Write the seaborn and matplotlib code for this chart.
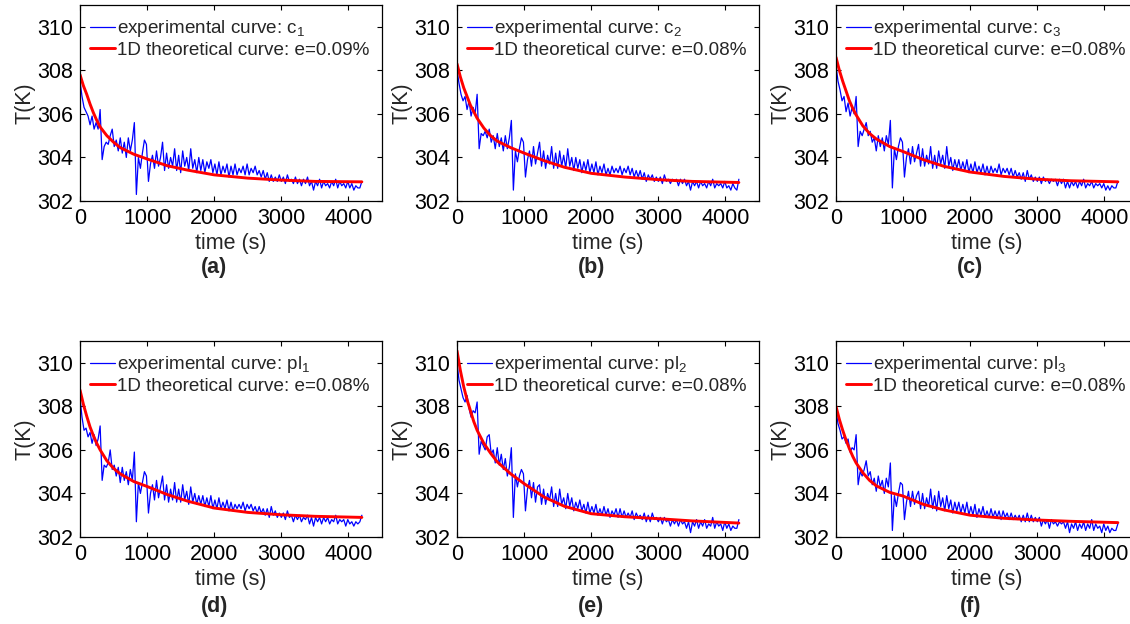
import numpy as np
import pandas as pd
import matplotlib
matplotlib.use("Agg")
import matplotlib.pyplot as plt
import seaborn as sns

# ---------------- data ----------------
time_exp = list(range(0, 4201, 30))   # sampling grid of experimental curves (s)

exp_c1 = [
    307.5, 306.8, 306.3, 306.1, 305.9, 305.5, 305.9, 305.3, 305.6, 305.3,
    306.2, 303.9, 304.5, 304.7, 304.6, 305.0, 305.3, 304.5, 304.8, 304.3,
    304.9, 304.2, 304.7, 304.0, 304.9, 304.3, 304.8, 305.6, 302.3, 304.0,
    303.5, 304.2, 304.8, 304.6, 302.9, 303.7, 304.1, 303.5, 304.3, 303.6,
    304.0, 304.7, 303.4, 304.2, 303.5, 304.0, 303.6, 304.4, 303.4, 304.1,
    303.3, 304.3, 303.6, 304.0, 303.4, 304.4, 303.5, 303.9, 303.3, 304.0,
    303.4, 303.9, 303.3, 303.8, 303.5, 303.9, 303.3, 303.7, 303.2, 303.8,
    303.2, 303.6, 303.3, 303.7, 303.1, 303.6, 303.2, 303.7, 303.2, 303.5,
    303.3, 303.6, 303.2, 303.7, 303.2, 303.5, 303.3, 303.6, 303.2, 303.4,
    303.1, 303.4, 303.0, 303.3, 302.9, 303.2, 302.9, 303.1, 302.9, 303.2,
    302.9, 303.1, 302.8, 303.2, 302.9, 303.0, 302.8, 303.1, 302.8, 303.0,
    302.7, 303.0, 302.8, 303.1, 302.7, 302.9, 302.5, 302.9, 302.7, 303.0,
    302.6, 302.9, 302.7, 302.8, 302.6, 302.9, 302.7, 303.0, 302.6, 302.9,
    302.7, 302.8, 302.6, 302.9, 302.6, 302.8, 302.5, 302.7, 302.6, 302.6,
    302.9]

exp_c2 = [
    308.0, 307.4, 306.9, 306.6, 306.8, 306.2, 306.6, 305.9, 306.3, 306.0,
    306.9, 304.4, 305.1, 305.0, 305.2, 304.9, 305.3, 304.7, 305.0, 304.4,
    305.1, 304.5, 304.9, 304.3, 305.0, 304.4, 304.9, 305.7, 302.5, 304.3,
    303.8, 304.4, 304.9, 304.7, 303.1, 303.9, 304.3, 303.6, 304.5, 303.7,
    304.2, 304.7, 303.6, 304.3, 303.5, 304.1, 303.7, 304.5, 303.5, 304.2,
    303.5, 304.3, 303.6, 304.1, 303.5, 304.4, 303.6, 304.0, 303.4, 304.0,
    303.5, 303.9, 303.3, 303.8, 303.4, 303.9, 303.3, 303.7, 303.3, 303.8,
    303.2, 303.6, 303.3, 303.7, 303.2, 303.5, 303.2, 303.6, 303.3, 303.5,
    303.3, 303.6, 303.2, 303.5, 303.3, 303.6, 303.2, 303.5, 303.1, 303.4,
    303.1, 303.4, 303.0, 303.3, 302.9, 303.2, 303.0, 303.2, 302.9, 303.1,
    302.9, 303.1, 302.8, 303.2, 302.9, 303.0, 302.8, 303.0, 302.9, 303.0,
    302.7, 303.0, 302.8, 303.0, 302.7, 302.9, 302.5, 302.9, 302.7, 302.9,
    302.6, 302.9, 302.7, 302.8, 302.6, 302.9, 302.7, 303.0, 302.6, 302.8,
    302.7, 302.8, 302.6, 302.9, 302.6, 302.7, 302.5, 302.8, 302.6, 302.5,
    303.0]

exp_c3 = [
    308.2, 307.5, 307.1, 306.6, 306.8, 306.1, 306.5, 305.9, 306.3, 306.0,
    306.8, 304.5, 305.2, 305.0, 305.3, 305.6, 305.0, 305.2, 304.7, 304.9,
    304.3, 305.0, 304.5, 304.9, 304.3, 305.0, 304.6, 305.7, 302.6, 304.4,
    303.9, 304.5, 304.9, 304.7, 303.1, 304.0, 304.4, 303.7, 304.5, 303.8,
    304.2, 304.6, 303.6, 304.4, 303.6, 304.1, 303.7, 304.5, 303.5, 304.1,
    303.5, 304.3, 303.7, 304.1, 303.5, 304.5, 303.6, 304.0, 303.4, 303.9,
    303.5, 303.9, 303.4, 303.8, 303.4, 303.9, 303.3, 303.7, 303.3, 303.8,
    303.3, 303.6, 303.3, 303.7, 303.2, 303.6, 303.2, 303.6, 303.3, 303.5,
    303.3, 303.7, 303.2, 303.5, 303.3, 303.5, 303.2, 303.5, 303.1, 303.4,
    303.1, 303.3, 303.0, 303.3, 302.9, 303.4, 303.0, 303.2, 302.9, 303.1,
    302.9, 303.1, 302.8, 303.1, 302.9, 303.0, 302.8, 303.0, 302.9, 303.0,
    302.7, 303.0, 302.8, 303.0, 302.6, 302.9, 302.6, 302.9, 302.7, 302.9,
    302.6, 302.9, 302.7, 303.0, 302.6, 302.8, 302.7, 302.9, 302.6, 302.8,
    302.7, 302.8, 302.6, 302.8, 302.5, 302.7, 302.5, 302.7, 302.6, 302.6,
    302.9]

exp_pl1 = [
    308.4, 307.5, 306.9, 307.0, 306.6, 306.8, 306.3, 306.7, 306.2, 306.5,
    307.1, 304.6, 305.3, 305.2, 305.4, 306.0, 305.1, 305.3, 304.8, 305.2,
    304.5, 305.2, 304.6, 305.0, 304.4, 305.1, 304.6, 305.9, 302.7, 304.5,
    304.0, 304.5, 305.0, 304.8, 303.1, 304.0, 304.4, 303.7, 304.6, 303.8,
    304.3, 304.8, 303.7, 304.4, 303.6, 304.2, 303.7, 304.5, 303.6, 304.2,
    303.6, 304.4, 303.7, 304.1, 303.5, 304.3, 303.6, 304.0, 303.5, 303.9,
    303.5, 303.9, 303.4, 303.8, 303.4, 303.9, 303.3, 303.7, 303.3, 303.8,
    303.3, 303.6, 303.3, 303.7, 303.2, 303.6, 303.2, 303.5, 303.3, 303.5,
    303.3, 303.6, 303.2, 303.5, 303.3, 303.5, 303.2, 303.4, 303.1, 303.4,
    303.1, 303.3, 303.0, 303.3, 302.9, 303.4, 303.0, 303.2, 302.9, 303.1,
    302.9, 303.1, 302.8, 303.2, 302.9, 303.0, 302.7, 303.0, 302.8, 303.0,
    302.7, 302.9, 302.8, 303.0, 302.6, 302.9, 302.5, 302.9, 302.7, 302.9,
    302.6, 302.9, 302.7, 302.9, 302.6, 302.8, 302.7, 303.0, 302.6, 302.8,
    302.7, 302.8, 302.5, 302.8, 302.6, 302.7, 302.5, 302.7, 302.6, 302.7,
    303.0]

exp_pl2 = [
    310.0, 309.2, 308.8, 308.4, 308.2, 308.5, 307.9, 307.5, 307.8, 307.7,
    308.2, 305.8, 306.4, 306.2, 306.0, 306.6, 306.7, 305.8, 306.0, 305.4,
    306.1, 305.3, 305.8, 305.1, 305.6, 304.8, 305.2, 306.1, 302.9, 304.9,
    304.3, 304.8, 305.1, 304.9, 303.2, 304.2, 304.6, 303.8, 304.5, 303.6,
    304.3, 304.4, 303.5, 304.2, 303.5, 304.0, 303.7, 304.3, 303.4, 304.0,
    303.4, 304.2, 303.5, 303.8, 303.3, 304.0, 303.4, 303.8, 303.2, 303.6,
    303.3, 303.7, 303.2, 303.5, 303.1, 303.6, 303.1, 303.4, 303.1, 303.5,
    303.0, 303.3, 303.0, 303.4, 303.0, 303.3, 302.9, 303.2, 303.0, 303.3,
    302.9, 303.3, 302.9, 303.2, 302.9, 303.1, 302.9, 303.2, 302.8, 303.1,
    302.9, 303.0, 302.8, 303.1, 302.7, 303.0, 302.7, 303.1, 302.8, 302.9,
    302.7, 302.9, 302.6, 302.9, 302.7, 302.8, 302.5, 302.8, 302.6, 302.8,
    302.5, 302.8, 302.6, 302.7, 302.4, 302.7, 302.2, 302.7, 302.5, 302.8,
    302.4, 302.7, 302.5, 302.8, 302.4, 302.6, 302.5, 302.9, 302.4, 302.7,
    302.5, 302.6, 302.3, 302.7, 302.4, 302.6, 302.3, 302.5, 302.4, 302.4,
    302.8]

exp_pl3 = [
    307.8, 307.2, 306.9, 306.5, 306.6, 306.3, 306.5, 305.9, 306.1, 306.0,
    306.7, 304.4, 305.0, 304.8, 305.1, 305.5, 304.8, 305.0, 304.4, 304.7,
    304.1, 304.8, 304.3, 304.6, 304.0, 304.7, 304.3, 305.4, 302.3, 303.9,
    303.4, 304.0, 304.5, 304.4, 302.8, 303.6, 304.1, 303.4, 304.1, 303.5,
    303.9, 304.1, 303.3, 304.0, 303.3, 303.8, 303.4, 304.2, 303.3, 303.9,
    303.2, 304.1, 303.4, 303.8, 303.2, 303.9, 303.3, 303.7, 303.1, 303.6,
    303.2, 303.6, 303.1, 303.5, 303.1, 303.6, 303.0, 303.4, 303.0, 303.5,
    302.9, 303.3, 303.0, 303.4, 302.9, 303.2, 302.9, 303.3, 302.9, 303.2,
    302.9, 303.2, 302.8, 303.2, 302.9, 303.1, 302.8, 303.1, 302.8, 303.0,
    302.8, 303.0, 302.7, 303.0, 302.7, 303.1, 302.7, 303.0, 302.7, 302.9,
    302.7, 302.9, 302.5, 302.8, 302.6, 302.8, 302.4, 302.8, 302.6, 302.7,
    302.5, 302.7, 302.6, 302.7, 302.4, 302.7, 302.2, 302.6, 302.4, 302.7,
    302.3, 302.6, 302.4, 302.7, 302.3, 302.6, 302.4, 302.8, 302.3, 302.6,
    302.4, 302.5, 302.2, 302.6, 302.3, 302.5, 302.2, 302.4, 302.3, 302.3,
    302.6]

time_th = [0, 50, 100, 150, 200, 250, 300, 400, 500, 600, 800, 1000, 1300,
           1600, 2000, 2500, 3000, 3500, 4200]

th_c1 = [307.8, 307.3, 306.9, 306.45, 306.05, 305.7, 305.4, 305.0, 304.7, 304.45,
         304.15, 303.93, 303.62, 303.42, 303.2, 303.05, 302.96, 302.9, 302.88]
th_c2 = [308.3, 307.7, 307.2, 306.8, 306.4, 306.1, 305.8, 305.35, 305.0, 304.75,
         304.45, 304.2, 303.85, 303.55, 303.27, 303.1, 302.98, 302.9, 302.85]
th_c3 = [308.6, 308.0, 307.5, 307.05, 306.6, 306.25, 305.95, 305.45, 305.1, 304.85,
         304.5, 304.27, 303.9, 303.6, 303.33, 303.13, 303.0, 302.93, 302.88]
th_pl1 = [308.75, 308.1, 307.55, 307.05, 306.65, 306.3, 306.0, 305.5, 305.15, 304.9,
          304.55, 304.32, 303.95, 303.65, 303.33, 303.13, 303.02, 302.95, 302.9]
th_pl2 = [310.55, 309.65, 308.9, 308.3, 307.8, 307.3, 306.9, 306.3, 305.85, 305.45,
          304.9, 304.45, 303.83, 303.41, 303.07, 302.93, 302.84, 302.74, 302.64]
th_pl3 = [308.0, 307.4, 306.9, 306.45, 306.05, 305.7, 305.4, 304.95, 304.6, 304.35,
          304.05, 303.88, 303.5, 303.25, 303.0, 302.86, 302.78, 302.72, 302.66]

exp_names = ["c$_1$", "c$_2$", "c$_3$", "pl$_1$", "pl$_2$", "pl$_3$"]
errors = ["0.09%", "0.08%", "0.08%", "0.08%", "0.08%", "0.08%"]
panel_tags = ["(a)", "(b)", "(c)", "(d)", "(e)", "(f)"]
exp_series = [exp_c1, exp_c2, exp_c3, exp_pl1, exp_pl2, exp_pl3]
th_series = [th_c1, th_c2, th_c3, th_pl1, th_pl2, th_pl3]

x_ticks = [0, 1000, 2000, 3000, 4000]
y_ticks = [302, 304, 306, 308, 310]

# ---------------- style ----------------
sns.set_style("ticks")
plt.rcParams['font.family'] = ['Liberation Sans', 'DejaVu Sans']
plt.rcParams['mathtext.default'] = 'regular'
plt.rcParams['xtick.direction'] = 'in'
plt.rcParams['ytick.direction'] = 'in'

W, H = 1130, 624
fig = plt.figure(figsize=(W / 100, H / 100), dpi=100)

lefts = [80, 457, 836]
tops = [5, 341]
aw, ah = 302, 196

for k in range(6):
    r, c = divmod(k, 3)
    left = lefts[c] / W
    bottom = 1 - (tops[r] + ah) / H
    ax = fig.add_axes([left, bottom, aw / W, ah / H])

    n = len(exp_series[k])
    df_e = pd.DataFrame({"t": time_exp[:n], "T": exp_series[k]})
    df_t = pd.DataFrame({"t": time_th, "T": th_series[k]})
    sns.lineplot(data=df_e, x="t", y="T", ax=ax, color="#0000FF", lw=0.9,
                 label="experimental curve: " + exp_names[k], sort=False,
                 estimator=None)
    sns.lineplot(data=df_t, x="t", y="T", ax=ax, color="#FF0000", lw=2.1,
                 label="1D theoretical curve: e=" + errors[k], sort=False,
                 estimator=None)

    ax.set_xlim(0, 4500)
    ax.set_ylim(302, 311)
    ax.set_xticks(x_ticks)
    ax.set_yticks(y_ticks)
    ax.tick_params(axis="both", which="major", labelsize=15.5, length=3.5,
                   width=0.8, top=True, right=True, direction="in", pad=5,
                   colors="black")
    for s in ax.spines.values():
        s.set_linewidth(0.9)
        s.set_color("black")
    ax.set_xlabel("time (s)", fontsize=15.5, labelpad=3)
    ax.set_ylabel("T(K)", fontsize=15.5, labelpad=1)

    leg = ax.legend(loc="upper left", bbox_to_anchor=(-0.01, 1.0), frameon=False,
                    fontsize=13.6, handlelength=1.3, handletextpad=0.12,
                    labelspacing=0.14, borderaxespad=0.45, borderpad=0.25)

    yfrac = -0.337 if r == 0 else -0.357
    ax.annotate(panel_tags[k], xy=(2000, yfrac), xycoords=("data", "axes fraction"),
                ha="center", va="center", fontsize=15.5, fontweight="bold",
                annotation_clip=False)

fig.savefig("out.png", dpi=100)
